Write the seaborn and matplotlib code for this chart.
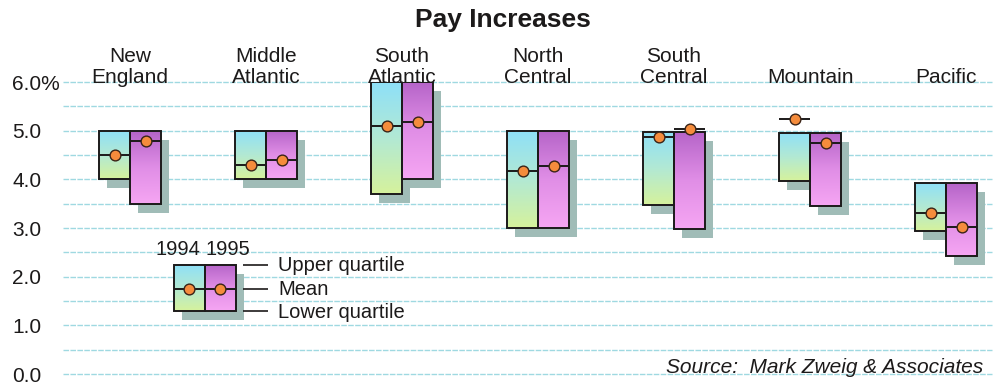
import numpy as np
import pandas as pd
import matplotlib
matplotlib.use("Agg")
import matplotlib.pyplot as plt
import seaborn as sns
from matplotlib.colors import LinearSegmentedColormap
from matplotlib.patches import Rectangle
from matplotlib.transforms import blended_transform_factory

# ---- data -------------------------------------------------------------
regions = ["New\nEngland", "Middle\nAtlantic", "South\nAtlantic", "North\nCentral",
           "South\nCentral", "Mountain", "Pacific"]
low_1994 = [4.0, 4.0, 3.7, 3.0, 3.48, 3.96, 2.93]
mean_1994 = [4.5, 4.3, 5.1, 4.17, 4.87, 5.24, 3.31]
up_1994 = [5.0, 5.0, 6.0, 5.0, 4.98, 4.95, 3.93]
low_1995 = [3.5, 4.0, 4.0, 3.0, 2.97, 3.45, 2.43]
mean_1995 = [4.79, 4.4, 5.17, 4.28, 5.03, 4.74, 3.03]
up_1995 = [5.0, 5.0, 6.0, 5.0, 4.98, 4.95, 3.93]

key_low, key_mean, key_up = 1.29, 1.75, 2.24
years = ["1994", "1995"]
key_labels = ["Upper quartile", "Mean", "Lower quartile"]
ytick_vals = [0, 1, 2, 3, 4, 5, 6]
ytick_labels = ["0.0", "1.0", "2.0", "3.0", "4.0", "5.0", "6.0%"]

# ---- style ------------------------------------------------------------
sns.set_style("white")
plt.rcParams["font.family"] = ["Liberation Sans", "DejaVu Sans"]
TXT = "#1c1a1a"

W, H = 995, 386
fig = plt.figure(figsize=(W / 100, H / 100), dpi=100)
ax = fig.add_axes([63 / W, 12 / H, (992 - 63) / W, 292 / H])

BW = 31 / 136           # width of one box in category units
DX, DY = 8 / 136, 9 / 48.67   # drop-shadow offset
cmap94 = LinearSegmentedColormap.from_list("c94", ["#d6f29c", "#b2e9d4", "#8ee0f8"])
cmap95 = LinearSegmentedColormap.from_list("c95", ["#f6a6f3", "#e08ee6", "#b564c8"])
grad = np.linspace(0, 1, 256).reshape(-1, 1)


def draw_box(x0, lo, hi, cmap):
    ax.add_patch(Rectangle((x0 + DX, lo - DY), BW, hi - lo, fc="#a0bcb7",
                           ec="none", zorder=2))
    ax.imshow(grad, cmap=cmap, extent=[x0, x0 + BW, lo, hi], origin="lower",
              aspect="auto", interpolation="bilinear", zorder=3)
    ax.add_patch(Rectangle((x0, lo), BW, hi - lo, fill=False, ec=TXT,
                           lw=1.4, zorder=4))


def draw_mean(x0, m):
    ax.hlines(m, x0, x0 + BW, color=TXT, lw=1.4, zorder=5)


# grid lines
ax.hlines(np.arange(0, 6.01, 0.5), 0, 1, transform=ax.get_yaxis_transform(),
          color="#9fd9e1", lw=1.0, linestyle=(0, (4, 1)), zorder=1, clip_on=False)

xs = np.arange(len(regions))
for i in xs:
    draw_box(i - BW, low_1994[i], up_1994[i], cmap94)
    draw_box(i, low_1995[i], up_1995[i], cmap95)
    draw_mean(i - BW, mean_1994[i])
    draw_mean(i, mean_1995[i])

# key box
kx = 0.55
draw_box(kx - BW, key_low, key_up, cmap94)
draw_box(kx, key_low, key_up, cmap95)
draw_mean(kx - BW, key_mean)
draw_mean(kx, key_mean)

means = pd.DataFrame({
    "x": list(xs - BW / 2) + list(xs + BW / 2) + [kx - BW / 2, kx + BW / 2],
    "mean": mean_1994 + mean_1995 + [key_mean, key_mean],
})
sns.scatterplot(data=means, x="x", y="mean", ax=ax, s=60, color="#f58c3c",
                edgecolor="#3a2418", linewidth=1.0, zorder=6, legend=False,
                clip_on=False)

# key annotations
ax.text(0.353, 2.445, years[0], ha="center", va="baseline", fontsize=14.5, color=TXT)
ax.text(0.72, 2.445, years[1], ha="center", va="baseline", fontsize=14.5, color=TXT)
for yv, yb, lab in zip([key_up, key_mean, key_low], [2.12, 1.62, 1.15], key_labels):
    ax.hlines(yv, 0.831, 1.015, color=TXT, lw=1.2, zorder=5)
    ax.text(1.088, yb, lab, ha="left", va="baseline", fontsize=14.5, color=TXT)

ax.set_xlim(-0.493, (992 - 130) / 136)
ax.set_ylim(0, 6)
ax.set_xlabel("")
ax.set_ylabel("")
ax.set_xticks([])
ax.set_yticks(ytick_vals)
ax.set_yticklabels(ytick_labels, fontsize=15, color=TXT)
ax.tick_params(axis="y", length=0, pad=36.7)
for lbl in ax.get_yticklabels():
    lbl.set_horizontalalignment("left")
sns.despine(ax=ax, left=True, bottom=True)

# region names along the top
trans = blended_transform_factory(ax.transData, fig.transFigure)
for i, name in zip(xs, regions):
    ax.text(i, 1 - 87 / H, name, ha="center", va="bottom", fontsize=15,
            linespacing=1.1, color=TXT, transform=trans, clip_on=False)

fig.text(503 / W, 1 - 20 / H, "Pay Increases", ha="center", va="center",
         fontsize=19, fontweight="bold", color=TXT)
fig.text(983 / W, 1 - 373 / H, "Source:  Mark Zweig & Associates", ha="right",
         va="baseline", fontsize=15, style="italic", color=TXT)

fig.savefig("out.png", dpi=100)
